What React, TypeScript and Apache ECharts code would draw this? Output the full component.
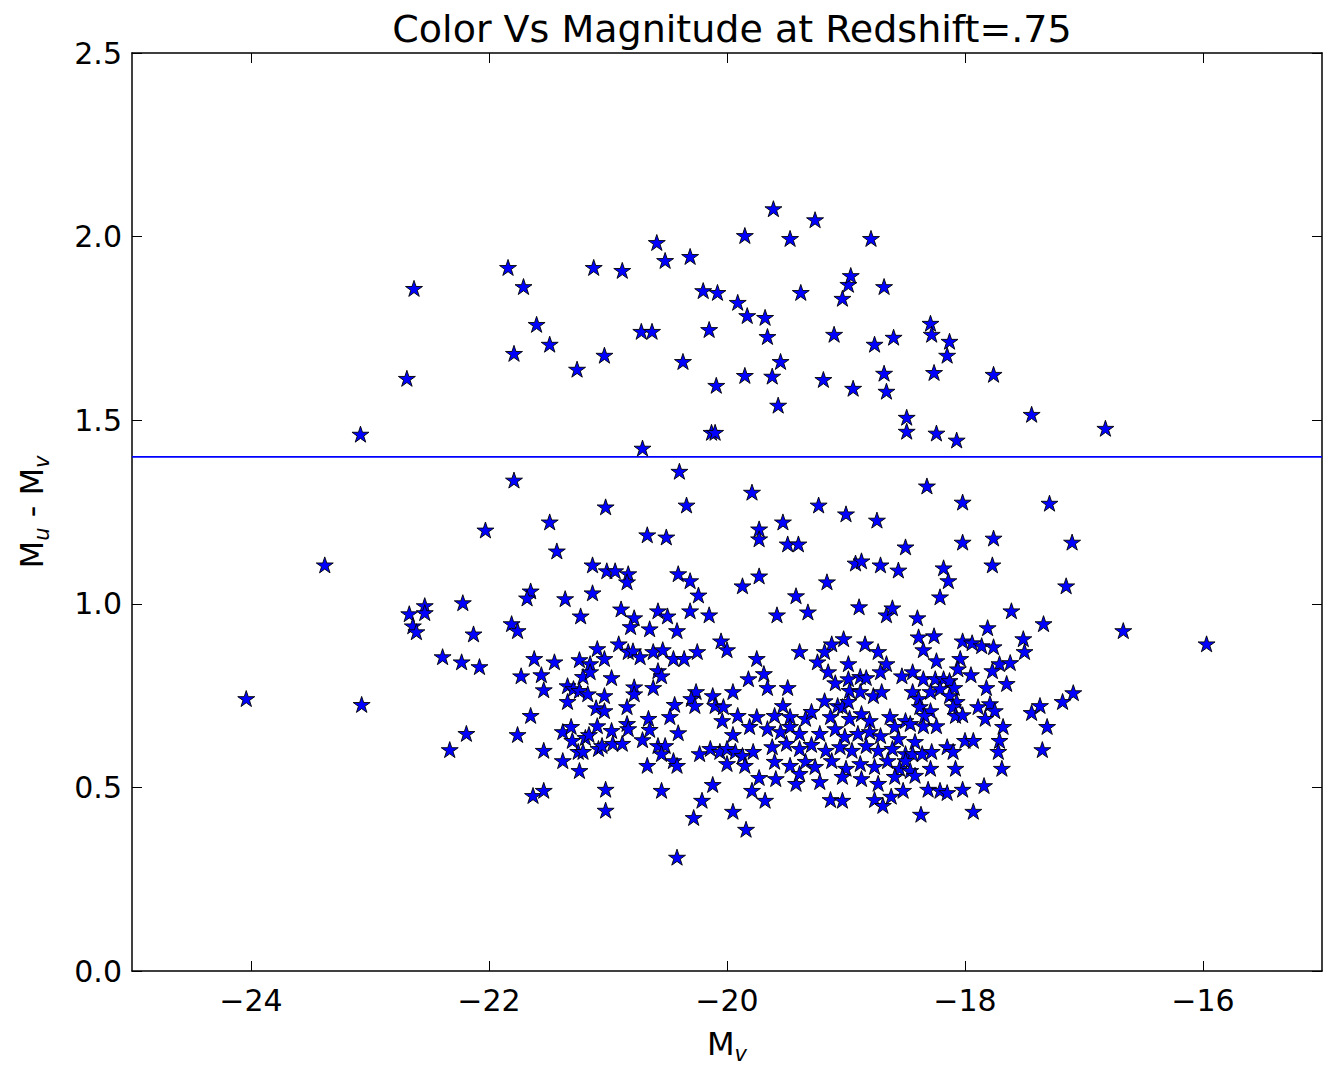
import React, { useEffect, useRef } from 'react';
import * as echarts from 'echarts';

const titleText = 'Color Vs Magnitude at Redshift=.75';
const xTicks = [-24, -22, -20, -18, -16];
const cutLevel = 1.4;

// stars above the colour cut
const upperStars: [number, number][] = [
  [-22.63, 1.859], [-22.69, 1.614], [-23.08, 1.462], [-21.84, 1.916], [-21.71, 1.864],
  [-21.79, 1.682], [-21.60, 1.761], [-21.49, 1.707], [-21.26, 1.639], [-21.12, 1.916],
  [-20.88, 1.908], [-21.03, 1.677], [-20.72, 1.742], [-20.63, 1.742], [-20.59, 1.984],
  [-20.52, 1.935], [-20.31, 1.946], [-20.37, 1.660], [-20.71, 1.424], [-20.20, 1.853],
  [-20.08, 1.848], [-20.15, 1.747], [-20.09, 1.595], [-20.13, 1.467], [-20.10, 1.467],
  [-19.85, 2.003], [-19.91, 1.821], [-19.83, 1.785], [-19.85, 1.622], [-19.68, 1.780],
  [-19.66, 1.728], [-19.61, 2.076], [-19.62, 1.620], [-19.55, 1.660], [-19.57, 1.541],
  [-19.47, 1.995], [-19.38, 1.848], [-19.26, 2.046], [-19.10, 1.734], [-19.19, 1.611],
  [-19.03, 1.832], [-18.98, 1.870], [-18.96, 1.894], [-18.94, 1.587], [-18.79, 1.995],
  [-18.68, 1.864], [-18.76, 1.707], [-18.68, 1.628], [-18.66, 1.579], [-18.60, 1.726],
  [-18.49, 1.508], [-18.49, 1.470], [-18.29, 1.764], [-18.28, 1.734], [-18.26, 1.630],
  [-18.24, 1.465], [-18.13, 1.715], [-18.15, 1.677], [-18.07, 1.446], [-17.76, 1.625],
  [-17.44, 1.516], [-16.82, 1.478],
];

const farLeftStars: [number, number][] = [
  [-23.38, 1.106], [-22.67, 0.973], [-22.64, 0.940], [-22.61, 0.924], [-22.54, 0.995],
  [-22.54, 0.976], [-24.04, 0.742], [-23.07, 0.726], [-22.22, 1.003], [-22.13, 0.918],
  [-22.39, 0.856], [-22.23, 0.842], [-22.08, 0.829], [-22.19, 0.647], [-22.33, 0.603],
  [-22.03, 1.201],
];

const midLeftStars: [number, number][] = [
  [-21.79, 1.337], [-21.49, 1.223], [-21.43, 1.144], [-21.13, 1.106], [-21.65, 1.035],
  [-21.68, 1.016], [-21.36, 1.014], [-21.13, 1.030], [-21.23, 0.967], [-21.81, 0.946],
  [-21.76, 0.927], [-21.62, 0.851], [-21.45, 0.842], [-21.73, 0.804], [-21.56, 0.807],
  [-21.54, 0.766], [-21.24, 0.848], [-21.15, 0.837], [-21.09, 0.878], [-21.21, 0.802],
  [-21.15, 0.815], [-21.34, 0.777], [-21.29, 0.769], [-21.24, 0.764], [-21.17, 0.755],
  [-21.34, 0.734], [-21.10, 0.717], [-21.65, 0.696], [-21.76, 0.644], [-21.54, 0.601],
  [-21.38, 0.652], [-21.31, 0.666], [-21.30, 0.628], [-21.19, 0.636], [-21.16, 0.644],
  [-21.25, 0.598], [-21.21, 0.598], [-21.09, 0.668], [-21.08, 0.606], [-21.38, 0.573],
  [-21.24, 0.546], [-21.63, 0.478], [-21.54, 0.492],
];

const centerStars: [number, number][] = [
  [-20.40, 1.361], [-19.79, 1.304], [-21.02, 1.264], [-20.34, 1.269], [-20.67, 1.188],
  [-20.51, 1.182], [-19.73, 1.204], [-19.73, 1.177], [-21.01, 1.090], [-20.94, 1.090],
  [-20.83, 1.082], [-20.84, 1.060], [-20.41, 1.082], [-20.31, 1.063], [-19.87, 1.049],
  [-19.73, 1.076], [-20.24, 1.024], [-20.89, 0.986], [-20.78, 0.962], [-20.81, 0.938],
  [-20.58, 0.981], [-20.50, 0.967], [-20.65, 0.932], [-20.42, 0.927], [-20.31, 0.981],
  [-20.15, 0.970], [-20.05, 0.899], [-20.00, 0.875], [-19.75, 0.851], [-21.03, 0.851],
  [-20.91, 0.891], [-20.83, 0.870], [-20.79, 0.872], [-20.73, 0.856], [-20.62, 0.870],
  [-20.54, 0.875], [-20.45, 0.851], [-20.36, 0.851], [-20.25, 0.870], [-20.58, 0.818],
  [-20.55, 0.804], [-20.97, 0.799], [-20.78, 0.774], [-20.78, 0.755], [-20.62, 0.772],
  [-21.03, 0.750], [-19.82, 0.796], [-20.26, 0.761], [-20.30, 0.742], [-20.27, 0.723],
  [-20.44, 0.726], [-20.12, 0.750], [-20.10, 0.723], [-20.03, 0.720], [-19.95, 0.761],
  [-19.91, 0.696], [-21.03, 0.709], [-20.84, 0.720], [-20.48, 0.693], [-20.04, 0.682],
  [-19.81, 0.666], [-19.75, 0.693], [-20.84, 0.674], [-20.83, 0.660], [-20.97, 0.655],
  [-20.66, 0.688], [-20.65, 0.658], [-20.71, 0.630], [-20.41, 0.649], [-19.95, 0.644],
  [-21.05, 0.614], [-20.96, 0.620], [-20.88, 0.620], [-20.58, 0.614], [-20.52, 0.614],
  [-20.55, 0.592], [-20.45, 0.573], [-20.42, 0.560], [-20.67, 0.560], [-20.23, 0.592],
  [-20.14, 0.606], [-20.06, 0.598], [-20.00, 0.606], [-19.93, 0.598], [-19.87, 0.587],
  [-19.78, 0.598], [-20.00, 0.565], [-19.85, 0.560], [-19.73, 0.527], [-21.02, 0.495],
  [-20.55, 0.492], [-20.12, 0.508], [-19.79, 0.492], [-21.02, 0.438], [-20.21, 0.465],
  [-20.28, 0.418], [-19.95, 0.435], [-19.84, 0.386], [-20.42, 0.310],
];

const clusterStars: [number, number][] = [
  [-19.23, 1.269], [-19.00, 1.245], [-18.74, 1.228], [-19.53, 1.223], [-19.49, 1.163],
  [-19.40, 1.163], [-18.50, 1.155], [-18.92, 1.111], [-18.87, 1.117], [-18.71, 1.106],
  [-18.56, 1.092], [-19.16, 1.060], [-19.42, 1.022], [-19.58, 0.970], [-19.32, 0.978],
  [-18.89, 0.992], [-18.66, 0.970], [-18.61, 0.989], [-19.39, 0.870], [-19.02, 0.905],
  [-19.12, 0.891], [-19.18, 0.870], [-19.24, 0.842], [-18.84, 0.891], [-18.73, 0.870],
  [-18.66, 0.837], [-18.71, 0.815], [-18.98, 0.837], [-18.98, 0.796], [-19.15, 0.815],
  [-19.09, 0.785], [-18.88, 0.802], [-18.83, 0.799], [-18.53, 0.804], [-19.69, 0.810],
  [-19.66, 0.772], [-19.49, 0.772], [-18.97, 0.764], [-18.88, 0.761], [-18.77, 0.750],
  [-18.70, 0.761], [-19.18, 0.736], [-19.07, 0.723], [-19.03, 0.720], [-18.98, 0.734],
  [-19.53, 0.723], [-19.42, 0.511], [-19.13, 0.467], [-19.03, 0.465], [-18.76, 0.467],
  [-18.69, 0.451], [-18.62, 0.476], [-19.68, 0.465],
  [-19.60, 0.696], [-19.47, 0.693], [-19.34, 0.688], [-19.29, 0.707], [-19.13, 0.693],
  [-18.97, 0.688], [-18.87, 0.701], [-18.80, 0.682], [-18.63, 0.693], [-18.59, 0.666],
  [-18.50, 0.682], [-19.66, 0.660], [-19.55, 0.652], [-19.47, 0.666], [-19.39, 0.647],
  [-19.22, 0.647], [-19.09, 0.660], [-19.01, 0.639], [-18.90, 0.647], [-18.80, 0.652],
  [-18.71, 0.641], [-18.56, 0.633], [-19.62, 0.611], [-19.50, 0.620], [-19.39, 0.606],
  [-19.29, 0.617], [-19.17, 0.601], [-19.05, 0.611], [-18.95, 0.601], [-18.83, 0.614],
  [-18.73, 0.601], [-18.61, 0.606], [-18.50, 0.592], [-19.60, 0.571], [-19.47, 0.560],
  [-19.34, 0.571], [-19.26, 0.557], [-19.12, 0.573], [-19.00, 0.552], [-18.88, 0.565],
  [-18.76, 0.557], [-18.65, 0.573], [-18.55, 0.552], [-19.59, 0.524], [-19.39, 0.538],
  [-19.22, 0.516], [-19.03, 0.530], [-18.87, 0.524], [-18.73, 0.511], [-18.59, 0.530],
];

const rightStars: [number, number][] = [
  [-18.32, 1.321], [-18.02, 1.277], [-17.29, 1.274], [-18.02, 1.168], [-17.76, 1.179],
  [-17.77, 1.106], [-18.18, 1.098], [-18.14, 1.063], [-18.21, 1.019], [-17.61, 0.981],
  [-17.34, 0.946], [-18.40, 0.962], [-17.81, 0.935], [-18.39, 0.910], [-18.35, 0.875],
  [-18.26, 0.913], [-18.02, 0.899], [-17.94, 0.894], [-17.86, 0.886], [-17.76, 0.883],
  [-17.51, 0.905], [-17.50, 0.870], [-18.04, 0.851], [-18.06, 0.823], [-18.24, 0.845],
  [-17.71, 0.837], [-17.62, 0.840], [-17.77, 0.818], [-17.95, 0.807], [-17.65, 0.783],
  [-17.82, 0.772], [-18.44, 0.815], [-18.35, 0.796], [-18.25, 0.796], [-18.18, 0.796],
  [-18.13, 0.791], [-18.09, 0.772], [-18.44, 0.761], [-18.39, 0.742], [-18.29, 0.761],
  [-18.21, 0.769], [-18.13, 0.750], [-18.07, 0.734], [-18.38, 0.720], [-18.29, 0.709],
  [-18.34, 0.696], [-18.10, 0.720], [-18.08, 0.696], [-18.02, 0.698], [-17.89, 0.720],
  [-17.79, 0.728], [-17.75, 0.709], [-17.83, 0.688], [-18.46, 0.674], [-18.35, 0.668],
  [-18.24, 0.668], [-17.68, 0.666], [-17.71, 0.628], [-17.72, 0.598], [-17.69, 0.552],
  [-18.00, 0.628], [-17.93, 0.628], [-18.42, 0.625], [-18.44, 0.592], [-18.36, 0.592],
  [-18.28, 0.598], [-18.15, 0.611], [-18.10, 0.598], [-18.50, 0.573], [-18.46, 0.546],
  [-18.42, 0.533], [-18.29, 0.552], [-18.08, 0.552], [-18.52, 0.492], [-18.31, 0.495],
  [-18.21, 0.492], [-18.15, 0.486], [-18.02, 0.495], [-17.84, 0.505], [-18.37, 0.427],
  [-17.93, 0.435], [-17.44, 0.704], [-17.37, 0.723], [-17.31, 0.666], [-17.35, 0.603],
  [-17.10, 1.168], [-17.15, 1.049], [-16.67, 0.927], [-15.97, 0.891], [-17.09, 0.758],
  [-17.18, 0.734],
];

const STAR =
  'path://M0,-1L0.2245,-0.309L0.951,-0.309L0.363,0.118L0.588,0.809L0,0.382L-0.588,0.809L-0.363,0.118L-0.951,-0.309L-0.2245,-0.309Z';
const FONT = 'DejaVu Sans';

const fmtX = (v: number) => (v < 0 ? '\u2212' + Math.abs(v) : String(v));

const nameRich = {
  a: { fontSize: 32, fontFamily: FONT, color: '#000', lineHeight: 40, verticalAlign: 'middle' },
  b: { fontSize: 21, fontFamily: FONT, fontStyle: 'italic', color: '#000', lineHeight: 22, verticalAlign: 'bottom' },
};

export default function App() {
  const ref = useRef<HTMLDivElement>(null);
  useEffect(() => {
    if (!ref.current) return;
    const chart = echarts.init(ref.current, undefined, { renderer: 'svg', width: 1324, height: 1069 });
    const allStars = [
      ...upperStars,
      ...farLeftStars,
      ...midLeftStars,
      ...centerStars,
      ...clusterStars,
      ...rightStars,
    ];
    const tickCommon = { show: true, inside: true, length: 10, lineStyle: { color: '#000', width: 1 } };
    const lineCommon = { show: true, onZero: false, lineStyle: { color: '#000', width: 1.5 } };
    chart.setOption({
      animation: false,
      backgroundColor: '#fff',
      title: {
        text: titleText,
        left: 727,
        top: 5,
        textAlign: 'center',
        textStyle: { fontFamily: FONT, fontSize: 38, fontWeight: 'normal', color: '#000' },
      },
      grid: { left: 132, right: 2, top: 53, bottom: 91, containLabel: false },
      xAxis: [
        {
          type: 'value',
          min: -25,
          max: -15,
          position: 'bottom',
          axisLine: lineCommon,
          axisTick: { ...tickCommon, customValues: xTicks },
          axisLabel: {
            customValues: xTicks,
            formatter: fmtX,
            fontFamily: FONT,
            fontSize: 30,
            color: '#000',
            margin: 14,
          },
          splitLine: { show: false },
          name: '{a|M}{b|v}',
          nameLocation: 'middle',
          nameGap: 53,
          nameTextStyle: { rich: nameRich },
        },
        {
          type: 'value',
          min: -25,
          max: -15,
          position: 'top',
          axisLine: lineCommon,
          axisTick: { ...tickCommon, customValues: xTicks },
          axisLabel: { show: false },
          splitLine: { show: false },
        },
      ],
      yAxis: [
        {
          type: 'value',
          min: 0,
          max: 2.5,
          interval: 0.5,
          position: 'left',
          axisLine: lineCommon,
          axisTick: tickCommon,
          axisLabel: {
            formatter: (v: number) => v.toFixed(1),
            fontFamily: FONT,
            fontSize: 30,
            color: '#000',
            margin: 10,
          },
          splitLine: { show: false },
          name: '{a|M}{b|u}{a| - M}{b|v}',
          nameLocation: 'middle',
          nameRotate: 90,
          nameGap: 80,
          nameTextStyle: { rich: nameRich },
        },
        {
          type: 'value',
          min: 0,
          max: 2.5,
          interval: 0.5,
          position: 'right',
          axisLine: lineCommon,
          axisTick: tickCommon,
          axisLabel: { show: false },
          splitLine: { show: false },
        },
      ],
      series: [
        {
          type: 'line',
          data: [[-25, cutLevel], [-15, cutLevel]],
          showSymbol: false,
          symbol: 'none',
          lineStyle: { color: '#0000ff', width: 1.6 },
          z: 1,
          silent: true,
        },
        {
          type: 'scatter',
          data: allStars,
          symbol: STAR,
          symbolSize: [17, 16],
          itemStyle: { color: '#0000ff', borderColor: '#000', borderWidth: 0.9, opacity: 1 },
          z: 2,
          silent: true,
        },
      ],
    });
    return () => chart.dispose();
  }, []);
  return (
    <div
      ref={ref}
      style={{ position: 'fixed', left: 0, top: 0, width: 1324, height: 1069, background: '#fff' }}
    />
  );
}
